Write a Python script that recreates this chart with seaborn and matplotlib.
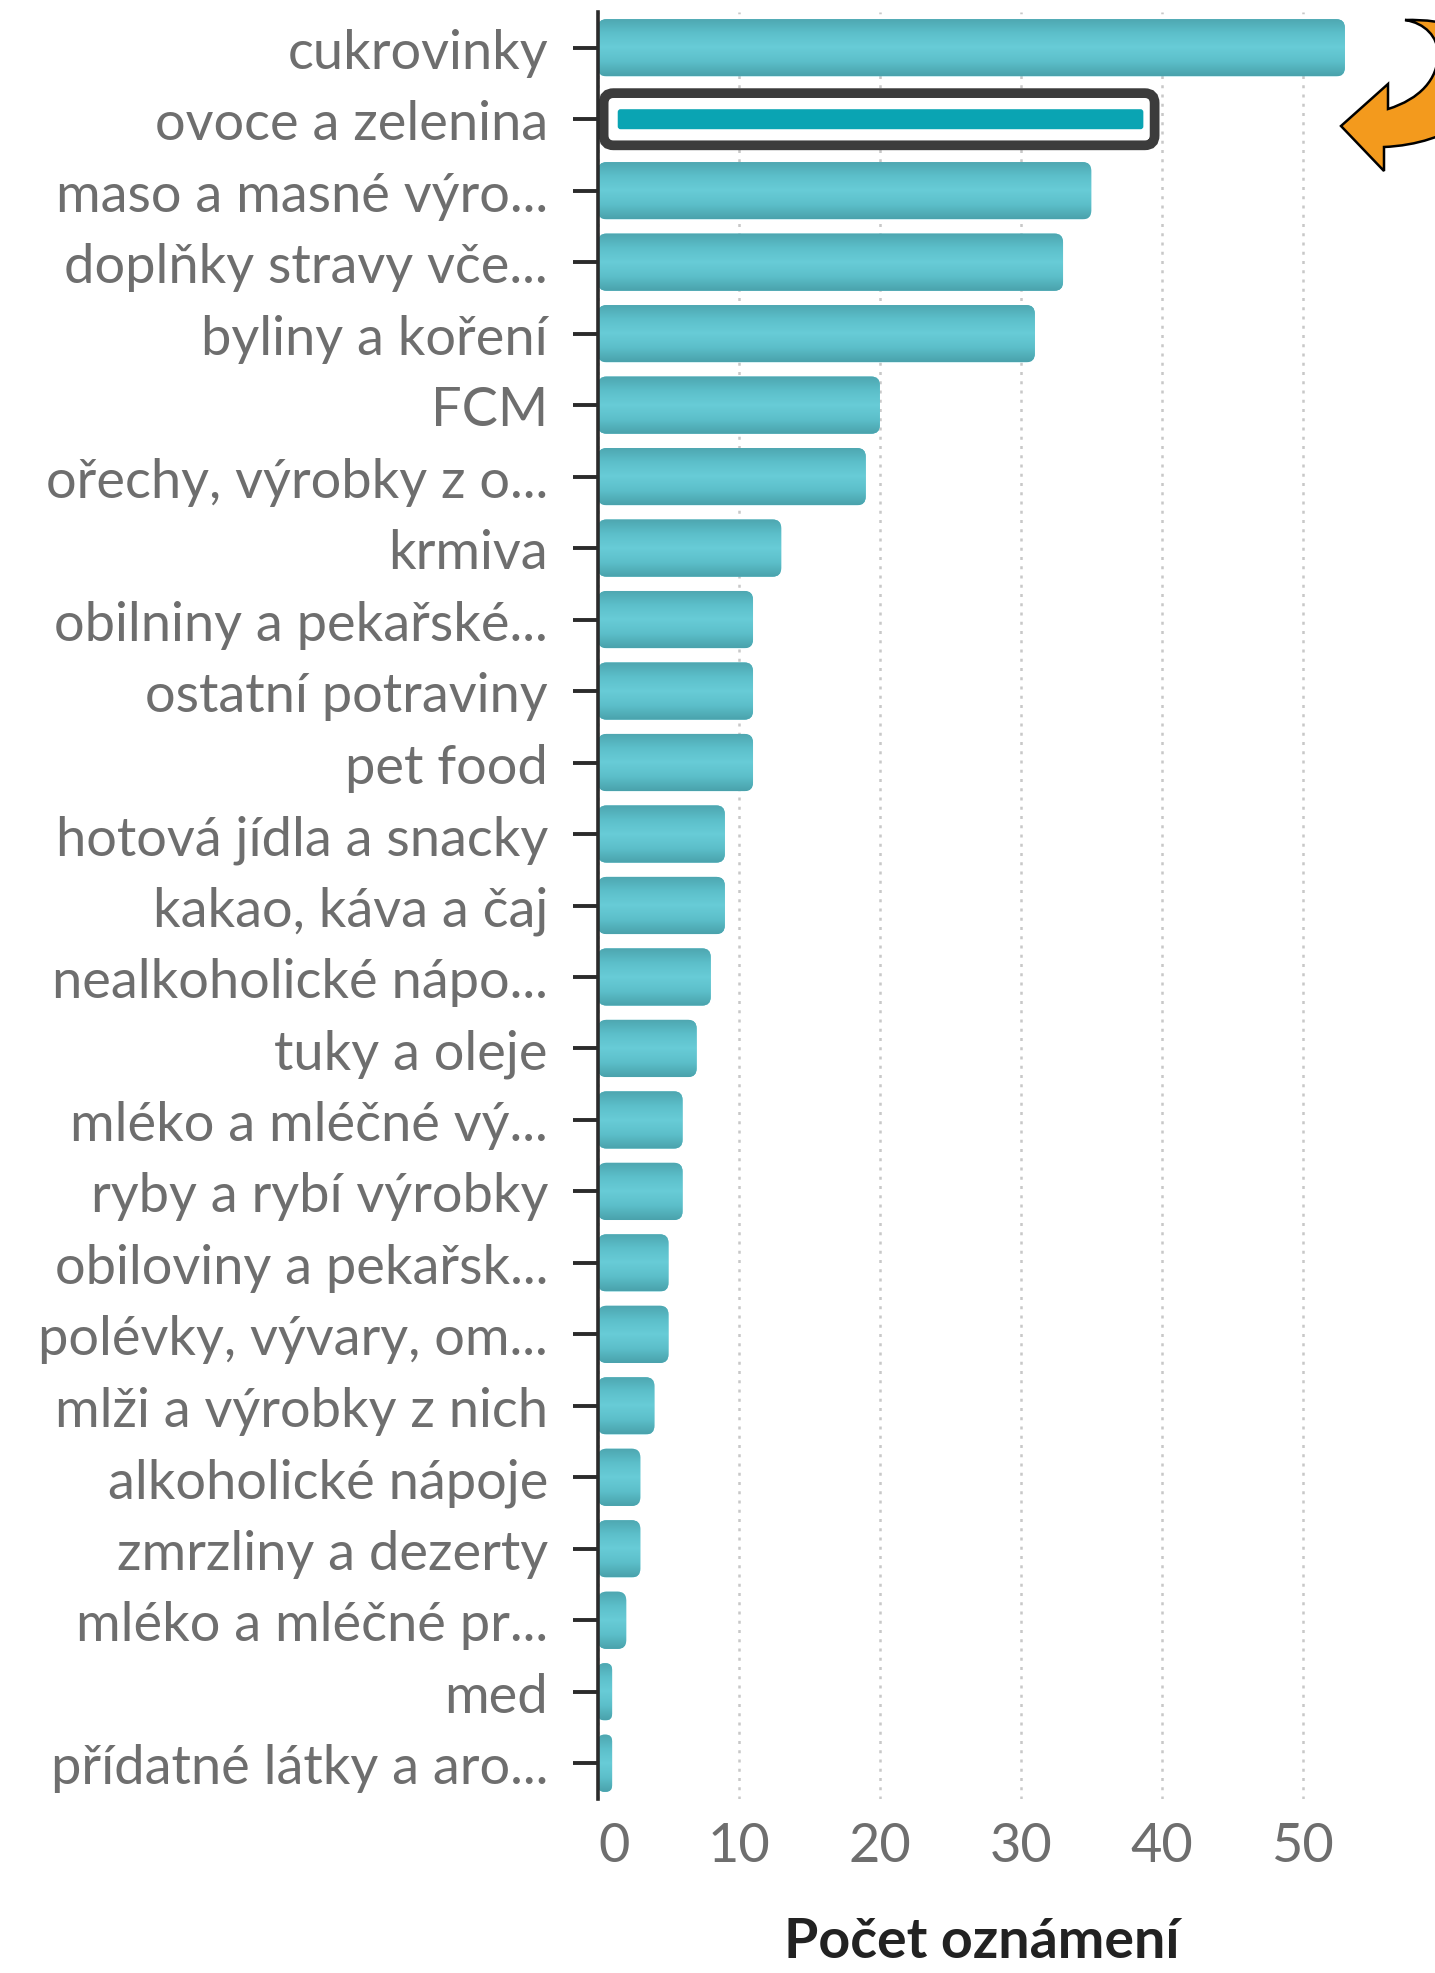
import matplotlib
matplotlib.use("Agg")
import matplotlib.pyplot as plt
import numpy as np
import pandas as pd
import seaborn as sns
from matplotlib.patches import FancyBboxPatch, PathPatch
from matplotlib.path import Path
from matplotlib.transforms import Affine2D
from matplotlib.colors import LinearSegmentedColormap

# data
categories = [
    "cukrovinky", "ovoce a zelenina", "maso a masné výro...",
    "doplňky stravy vče...", "byliny a koření", "FCM",
    "ořechy, výrobky z o...", "krmiva", "obilniny a pekařské...",
    "ostatní potraviny", "pet food", "hotová jídla a snacky",
    "kakao, káva a čaj", "nealkoholické nápo...", "tuky a oleje",
    "mléko a mléčné vý...", "ryby a rybí výrobky", "obiloviny a pekařsk...",
    "polévky, vývary, om...", "mlži a výrobky z nich", "alkoholické nápoje",
    "zmrzliny a dezerty", "mléko a mléčné pr...", "med",
    "přídatné látky a aro...",
]
counts = [53, 39, 35, 33, 31, 20, 19, 13, 11, 11, 11, 9, 9, 8, 7, 6, 6, 5, 5,
          4, 3, 3, 2, 1, 1]
highlight = "ovoce a zelenina"
x_ticks = [0, 10, 20, 30, 40, 50]
x_label = "Počet oznámení"

df = pd.DataFrame({"kategorie": categories, "pocet": counts})

sns.set_theme(style="white")
plt.rcParams["font.family"] = ["Lato", "DejaVu Sans"]

W, H = 1435, 1974
fig = plt.figure(figsize=(W / 100, H / 100), dpi=100)
ax = fig.add_axes([598 / W, 1 - 1800 / H, (1366 - 598) / W, (1800 - 13) / H])

sns.barplot(data=df, x="pocet", y="kategorie", orient="h", color="#5fc5d0",
            width=0.8, ax=ax, zorder=2)

ax.set_xlim(0, 54.5)
ax.set_ylim(24.5, -0.5)

# gradient shading for the bars
bar_cmap = LinearSegmentedColormap.from_list(
    "bar", ["#4ea6b0", "#5cbfca", "#68ccd7", "#5cbfca", "#4aa2ac"])
grad = np.linspace(0, 1, 64).reshape(-1, 1)

for patch, cat in zip(list(ax.patches), categories):
    x0, y0 = patch.get_x(), patch.get_y()
    w, h = patch.get_width(), patch.get_height()
    patch.set_visible(False)
    if cat == highlight:
        box = FancyBboxPatch((x0 + 0.4, y0 + 0.035), w + 0.1, h - 0.07,
                             boxstyle="round,pad=0,rounding_size=0.7",
                             mutation_aspect=0.2, facecolor="white",
                             edgecolor="#3c3c3c", linewidth=7, zorder=3)
        ax.add_patch(box)
        inner = FancyBboxPatch((x0 + 1.4, y0 + h / 2 - 0.14), w - 1.7, 0.28,
                               boxstyle="round,pad=0,rounding_size=0.2",
                               mutation_aspect=0.2, facecolor="#0aa4b3",
                               edgecolor="none", zorder=4)
        ax.add_patch(inner)
        continue
    r = min(0.6, w / 2.2)
    fb = FancyBboxPatch((x0, y0), w, h,
                        boxstyle=f"round,pad=0,rounding_size={r}",
                        mutation_aspect=0.2, facecolor="#5fc5d0",
                        edgecolor="none", zorder=2)
    ax.add_patch(fb)
    im = ax.imshow(grad, extent=(x0, x0 + w, y0 + h, y0), aspect="auto",
                   cmap=bar_cmap, zorder=2.1, interpolation="bilinear")
    im.set_clip_path(fb)

ax.set_xlim(0, 54.5)
ax.set_ylim(24.5, -0.5)

# axes styling
ax.set_xticks(x_ticks)
ax.set_ylabel("")
ax.set_xlabel(x_label, fontsize=40, fontweight="bold", color="#222222",
              labelpad=33)
ax.grid(axis="x", linestyle=(0, (1.2, 2.5)), color="#c8c8c8", linewidth=1.8)
ax.grid(axis="y", visible=False)
ax.set_axisbelow(True)
for side in ["top", "right", "bottom"]:
    ax.spines[side].set_visible(False)
ax.spines["left"].set_color("#2b2b2b")
ax.spines["left"].set_linewidth(2.6)
ax.spines["left"].set_zorder(5)

ax.tick_params(axis="y", length=18, width=2.8, color="#2b2b2b", pad=18,
               labelsize=39, labelcolor="#6e6e6e", left=True)
ax.tick_params(axis="x", length=0, pad=16, labelsize=39, labelcolor="#6e6e6e")
ax.get_xticklabels()[0].set_horizontalalignment("left")

# orange curved arrow pointing at the highlighted bar (pixel coords, y down)
verts = [
    (1405, 21),
    (1425, 24), (1438, 38), (1438, 55),
    (1438, 80), (1420, 100), (1388, 110),
    (1388, 85),
    (1341, 127),
    (1384, 172),
    (1384, 148),
    (1450, 145), (1500, 110), (1495, 60),
    (1485, 30), (1445, 20), (1405, 21),
    (1405, 21),
]
codes = ([Path.MOVETO] + [Path.CURVE4] * 6 + [Path.LINETO] * 4
         + [Path.CURVE4] * 6 + [Path.CLOSEPOLY])
px_to_fig = Affine2D().scale(1 / W, -1 / H).translate(0, 1) + fig.transFigure
arrow = PathPatch(Path(verts, codes), facecolor="#f39a1d", edgecolor="black",
                  linewidth=1.8, transform=px_to_fig, clip_on=False, zorder=10)
fig.add_artist(arrow)

fig.savefig("out.png", dpi=100)
